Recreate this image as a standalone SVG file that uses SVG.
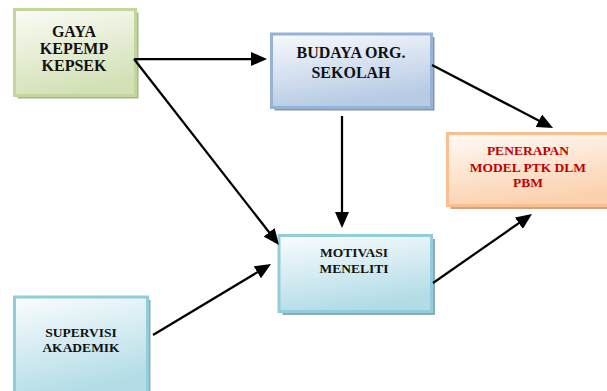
<svg xmlns="http://www.w3.org/2000/svg" width="607" height="391" viewBox="0 0 607 391">
<style>
.box{stroke-width:3}
.t{font-family:"Liberation Serif","Times New Roman",serif;font-weight:bold;text-anchor:middle;fill:#111}
.big{font-size:16px}
.sm{font-size:13.5px}
.red{fill:#c00000}
.conn line{stroke:#000;stroke-width:2.25;fill:none}
</style>
<defs>
<linearGradient id="gGreen" x1="0" y1="0" x2="0.3" y2="1"><stop offset="0" stop-color="#fbfcf7"/><stop offset="1" stop-color="#d3e1b7"/></linearGradient>
<linearGradient id="gBlue" x1="0" y1="0" x2="0.3" y2="1"><stop offset="0" stop-color="#f8fafd"/><stop offset="1" stop-color="#b7cbe4"/></linearGradient>
<linearGradient id="gOrange" x1="0" y1="0" x2="0.3" y2="1"><stop offset="0" stop-color="#fffaf6"/><stop offset="1" stop-color="#fbd2b0"/></linearGradient>
<linearGradient id="gAqua" x1="0" y1="0" x2="0.3" y2="1"><stop offset="0" stop-color="#fafdfe"/><stop offset="1" stop-color="#b3dce7"/></linearGradient>
<marker id="ah" markerUnits="userSpaceOnUse" markerWidth="16" markerHeight="14" refX="12" refY="7" orient="auto"><path d="M0,0 L16,7 L0,14 z" fill="#000"/></marker>
</defs>
<g id="gaya">
<rect x="17.5" y="12.5" width="121" height="86" fill="#a7b690"/>
<rect class="box" x="14.5" y="9.5" width="121" height="86" fill="url(#gGreen)" stroke="#c3d69b"/>
<text class="t big" x="74" y="37">GAYA</text>
<text class="t big" x="74" y="54">KEPEMP</text>
<text class="t big" x="74" y="71">KEPSEK</text>
</g>
<g id="budaya">
<rect x="274.5" y="37" width="160" height="73.5" fill="#8796ab"/>
<rect class="box" x="271.5" y="34" width="160" height="73.5" fill="url(#gBlue)" stroke="#95b3d7"/>
<text class="t big" x="351" y="58">BUDAYA ORG.</text>
<text class="t big" x="351" y="78">SEKOLAH</text>
</g>
<g id="penerapan">
<rect x="450.5" y="137" width="170" height="72" fill="#cfa384"/>
<rect class="box" x="447.5" y="133.5" width="170" height="72" fill="url(#gOrange)" stroke="#fabf8f"/>
<text class="t sm red" x="528" y="155">PENERAPAN</text>
<text class="t sm red" x="528" y="172">MODEL PTK DLM</text>
<text class="t sm red" x="528" y="187">PBM</text>
</g>
<g id="motivasi">
<rect x="282.5" y="239" width="152.5" height="76" fill="#8fabb4"/>
<rect class="box" x="279" y="235.5" width="152.5" height="76" fill="url(#gAqua)" stroke="#92cddc"/>
<text class="t sm" x="354" y="257">MOTIVASI</text>
<text class="t sm" x="354" y="273">MENELITI</text>
</g>
<g id="supervisi">
<rect x="17.5" y="300" width="133" height="100" fill="#8fabb4"/>
<rect class="box" x="14.5" y="297" width="133" height="100" fill="url(#gAqua)" stroke="#92cddc"/>
<text class="t sm" x="81" y="337">SUPERVISI</text>
<text class="t sm" x="81" y="352">AKADEMIK</text>
</g>
<g id="connectors" class="conn">
<line x1="134" y1="59" x2="263" y2="59" marker-end="url(#ah)"/>
<line x1="134" y1="59" x2="276.5" y2="241.8" marker-end="url(#ah)"/>
<line x1="342" y1="116" x2="342" y2="224" marker-end="url(#ah)"/>
<line x1="432" y1="65" x2="549.5" y2="126.2" marker-end="url(#ah)"/>
<line x1="153" y1="335" x2="267.6" y2="266.1" marker-end="url(#ah)"/>
<line x1="433" y1="283" x2="528.7" y2="216.3" marker-end="url(#ah)"/>
</g>
</svg>
